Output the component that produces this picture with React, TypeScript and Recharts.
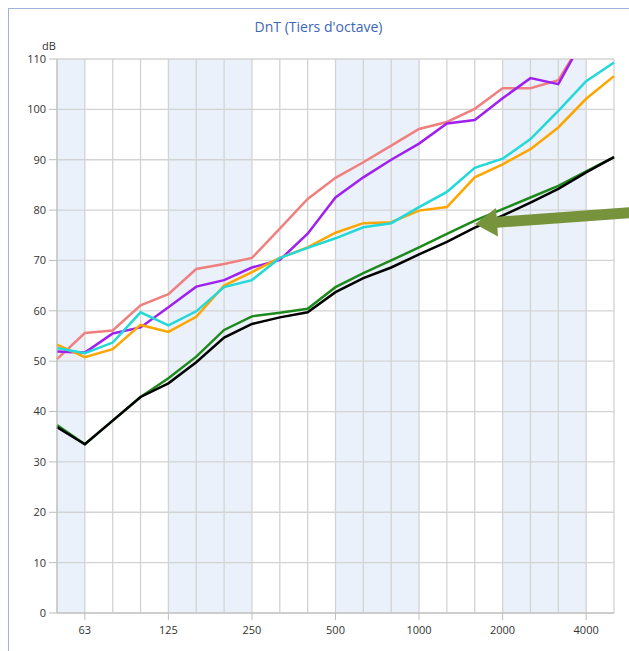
import { LineChart, Line, XAxis, YAxis, CartesianGrid } from 'recharts';

// bandes de tiers d'octave (Hz)
const FREQS = ['50', '63', '80', '100', '125', '160', '200', '250', '315', '400', '500', '630', '800', '1000', '1250', '1600', '2000', '2500', '3150', '4000', '5000'];
const TICK_LABELS = ['63', '125', '250', '500', '1000', '2000', '4000'];
const Y_TICKS = [0, 10, 20, 30, 40, 50, 60, 70, 80, 90, 100, 110];

const ROSE = [50.4, 55.6, 56.1, 61.1, 63.3, 68.3, 69.3, 70.5, 76.3, 82.2, 86.4, 89.5, 92.8, 96.1, 97.5, 100.1, 104.2, 104.2, 105.8, 114.7, 118];
const VIOLET = [51.9, 51.7, 55.5, 56.7, 60.7, 64.8, 66.1, 68.6, 70.1, 75.3, 82.5, 86.5, 90.0, 93.2, 97.2, 97.9, 102.2, 106.2, 105.0, 115, 118];
const CYAN = [52.6, 51.6, 53.7, 59.7, 57.1, 59.9, 64.7, 66.1, 70.5, 72.5, 74.4, 76.6, 77.4, 80.6, 83.6, 88.4, 90.2, 94.1, 99.7, 105.6, 109.3];
const ORANGE = [53.3, 50.8, 52.4, 57.2, 55.8, 58.8, 65.0, 67.7, 70.5, 72.6, 75.5, 77.4, 77.6, 79.9, 80.6, 86.5, 89.1, 92.1, 96.4, 102.1, 106.6];
const VERT = [37.3, 33.5, 38.2, 42.9, 46.6, 50.9, 56.2, 58.9, 59.6, 60.4, 64.7, 67.5, 70.0, 72.6, 75.3, 77.9, 80.2, 82.5, 84.8, 87.7, 90.5];
const NOIR = [36.9, 33.5, 38.2, 42.9, 45.6, 49.8, 54.7, 57.4, 58.7, 59.7, 63.7, 66.5, 68.6, 71.2, 73.7, 76.5, 78.9, 81.5, 84.2, 87.5, 90.5];

const data = FREQS.map((f, i) => ({
  freq: f,
  rose: ROSE[i],
  violet: VIOLET[i],
  cyan: CYAN[i],
  orange: ORANGE[i],
  vert: VERT[i],
  noir: NOIR[i],
}));

const FONT = '"Open Sans", "Noto Sans", sans-serif';
const SHADE = '#EAF1FA';

function FreqTick(props: any) {
  const { x, y, payload } = props;
  if (!TICK_LABELS.includes(payload.value)) return null;
  return (
    <g>
      <line x1={x} x2={x} y1={y - 13} y2={y - 6} stroke="#bdbdbd" />
      <text x={x} y={y} dy="0.71em" textAnchor="middle" fontSize={11} fill="#333" fontFamily={FONT}>
        {payload.value}
      </text>
    </g>
  );
}

export default function App() {
  return (
    <div>
      <style>{'body{margin:0;overflow:hidden;}'}</style>
      <div
        style={{
          position: 'absolute',
          left: 8,
          top: 8,
          width: 640,
          height: 680,
          border: '1px solid #9db3d9',
          background: '#fff',
        }}
      >
        <div
          style={{
            position: 'absolute',
            left: 0,
            width: 619,
            top: 8,
            textAlign: 'center',
            fontFamily: FONT,
            fontSize: 14,
            color: '#3d66b8',
          }}
        >
          DnT (Tiers d'octave)
        </div>
        <div style={{ position: 'absolute', left: 33, top: 29, fontFamily: FONT, fontSize: 11, color: '#333' }}>dB</div>
        <LineChart
          width={615}
          height={634}
          data={data}
          margin={{ top: 50, right: 10, bottom: 5, left: 8 }}
        >
          <CartesianGrid
            stroke="#d3d3d3"
            strokeWidth={1.3}
            verticalFill={[SHADE, '#ffffff', '#ffffff', '#ffffff', SHADE, SHADE]}
            fillOpacity={1}
          />
          <XAxis
            dataKey="freq"
            interval={0}
            tickSize={7}
            tickMargin={6}
            tickLine={false}
            height={25}
            stroke="#bdbdbd"
            tick={<FreqTick />}
          />
          <YAxis
            type="number"
            domain={[0, 110]}
            ticks={Y_TICKS}
            allowDataOverflow
            width={40}
            tickSize={8}
            tickMargin={3}
            stroke="#bdbdbd"
            tick={{ fontSize: 11, fill: '#333', fontFamily: FONT }}
          />
          <Line dataKey="rose" stroke="#f08080" strokeWidth={2.5} dot={false} isAnimationActive={false} />
          <Line dataKey="violet" stroke="#a020f0" strokeWidth={2.5} dot={false} isAnimationActive={false} />
          <Line dataKey="orange" stroke="#ffa500" strokeWidth={2.5} dot={false} isAnimationActive={false} />
          <Line dataKey="cyan" stroke="#22d8d8" strokeWidth={2.5} dot={false} isAnimationActive={false} />
          <Line dataKey="vert" stroke="#1e8a1e" strokeWidth={2.5} dot={false} isAnimationActive={false} />
          <Line dataKey="noir" stroke="#000000" strokeWidth={2.5} dot={false} isAnimationActive={false} />
        </LineChart>
      </div>
      {/* flèche d'annotation */}
      <svg
        width={629}
        height={651}
        style={{ position: 'absolute', left: 0, top: 0, pointerEvents: 'none' }}
      >
        <line x1={640} y1={212} x2={494} y2={222.5} stroke="#77933c" strokeWidth={11} />
        <polygon points="475,224 496,208 498,236.5" fill="#77933c" />
      </svg>
    </div>
  );
}
